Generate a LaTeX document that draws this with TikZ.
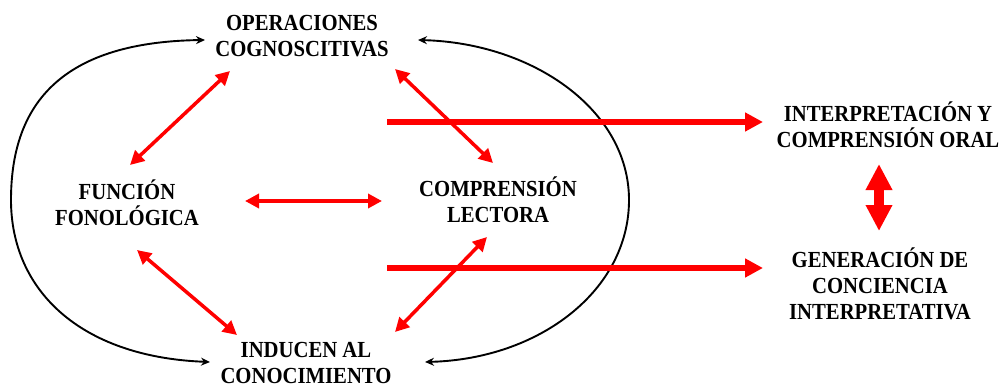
\documentclass[tikz,border=0pt]{standalone}
\usepackage{fontspec}
\setmainfont{Liberation Serif}[FakeStretch=0.9]
\usetikzlibrary{arrows.meta}

\begin{document}
\begin{tikzpicture}[x=1pt, y=-1pt,
  lbl/.style={align=center, font=\bfseries\fontsize{23}{26}\selectfont, inner sep=0pt},
  rel/.style={red, line width=3.5pt,
    {Triangle[length=14pt,width=14pt]}-{Triangle[length=14pt,width=14pt]}},
  big/.style={red, line width=6pt, -{Triangle[length=18pt,width=18pt]}},
  ring/.style={black, line width=1.9pt,
    {Stealth[length=9pt,width=8pt]}-{Stealth[length=9pt,width=8pt]}}]
  \fill[white] (0,0) rectangle (1003,385);
  \useasboundingbox (0,0) rectangle (1003,385);
  \node[lbl] (O) at (302,36)  {OPERACIONES\\COGNOSCITIVAS};
  \node[lbl] (F) at (127,203) {FUNCIÓN\\FONOLÓGICA};
  \node[lbl] (C) at (498,200) {COMPRENSIÓN\\LECTORA};
  \node[lbl] (I) at (306,363) {INDUCEN AL\\CONOCIMIENTO};
  \node[lbl] (P) at (888,125) {INTERPRETACIÓN Y\\COMPRENSIÓN ORAL};
  \node[lbl] (G) at (880,284) {GENERACIÓN DE\\CONCIENCIA\\INTERPRETATIVA};
  \coordinate (L) at (11,200);
  \coordinate (R) at (629,200);
  \coordinate (S1) at (387,122);
  \coordinate (S2) at (387,268);
  % las dos mitades del ciclo, de arriba hacia abajo
  \draw[ring] ([shift={(-97,4)}]O.center) .. controls +(-150,2) and +(0,-90) .. (L)
    .. controls +(0,90) and +(-130,-5) .. ([shift={(-96,-1)}]I.center);
  \draw[ring] ([shift={(116,4)}]O.center) .. controls +(115,3) and +(0,-90) .. (R)
    .. controls +(0,90) and +(115,-3) .. ([shift={(119,-1)}]I.center);
  \draw[rel] ([shift={(-72,35)}]O.center) -- ([shift={(3,-38)}]F.center);
  \draw[rel] ([shift={(93,33)}]O.center) -- ([shift={(-5,-37)}]C.center);
  \draw[rel] ([shift={(118,-2)}]F.center) -- ([shift={(-116,1)}]C.center);
  \draw[rel] ([shift={(10,47)}]F.center) -- ([shift={(-69,-28)}]I.center);
  \draw[rel] ([shift={(-11,37)}]C.center) -- ([shift={(89,-31)}]I.center);
  \draw[big] (S1) -- ([shift={(-125,-3)}]P.center);
  \draw[big] (S2) -- ([shift={(-117,-16)}]G.center);
  \draw[red, line width=10pt,
    {Triangle[length=26pt,width=25pt]}-{Triangle[length=26pt,width=25pt]}]
    ([shift={(-9,39)}]P.center) -- ([shift={(-1,-53)}]G.center);
\end{tikzpicture}
\end{document}
